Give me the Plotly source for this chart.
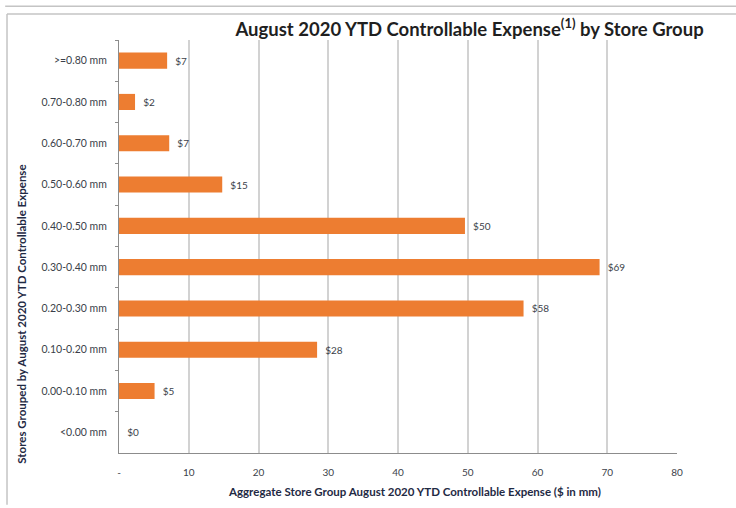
import plotly.graph_objects as go

# Store groups, listed top to bottom
groups = [">=0.80 mm", "0.70-0.80 mm", "0.60-0.70 mm", "0.50-0.60 mm", "0.40-0.50 mm",
          "0.30-0.40 mm", "0.20-0.30 mm", "0.10-0.20 mm", "0.00-0.10 mm", "<0.00 mm"]
# Aggregate YTD controllable expense ($ in mm)
expense = [6.9, 2.3, 7.2, 14.8, 49.6, 68.9, 58.0, 28.4, 5.1, 0.0]

x_tick_vals = [0, 10, 20, 30, 40, 50, 60, 70, 80]
x_tick_text = ["-", "10", "20", "30", "40", "50", "60", "70", "80"]

FONT = "Lato, 'Open Sans', sans-serif"
TEXT_COLOR = "#3b3f4a"
ORANGE = "#ED7D31"

fig = go.Figure(
    go.Bar(
        x=expense,
        y=groups,
        orientation="h",
        width=0.39,
        marker=dict(color=ORANGE, line=dict(width=0)),
        texttemplate="  $%{x:.0f}",
        textposition="outside",
        cliponaxis=False,
        textfont=dict(family=FONT, size=10, color=TEXT_COLOR),
    )
)

fig.update_layout(
    width=736,
    height=508,
    margin=dict(l=119, r=59, t=40, b=55),
    paper_bgcolor="white",
    plot_bgcolor="white",
    showlegend=False,
    font=dict(family=FONT, color=TEXT_COLOR),
    title=dict(
        text="<b>August 2020 YTD Controllable Expense<sup>(1)</sup> by Store Group</b>",
        font=dict(family=FONT, size=18.5, color="#1f1f1f"),
        x=0.638, xanchor="center",
        y=0.942, yanchor="middle",
    ),
    xaxis=dict(
        range=[0, 80],
        tickvals=x_tick_vals,
        ticktext=x_tick_text,
        tickfont=dict(family=FONT, size=10, color=TEXT_COLOR),
        showgrid=True,
        gridcolor="#d2d2d2",
        gridwidth=1.5,
        zeroline=False,
        showline=True,
        linecolor="#8c8c8c",
        linewidth=1.2,
        ticks="",
        ticklabelstandoff=10,
        fixedrange=True,
    ),
    yaxis=dict(
        autorange="reversed",
        tickfont=dict(family=FONT, size=10.5, color=TEXT_COLOR),
        showgrid=False,
        zeroline=False,
        showline=True,
        linecolor="#8c8c8c",
        linewidth=1.2,
        ticks="outside",
        tickson="boundaries",
        ticklen=3,
        tickcolor="#8c8c8c",
        ticklabelstandoff=9,
        fixedrange=True,
    ),
    annotations=[
        dict(
            text="<b>Aggregate Store Group August 2020 YTD Controllable Expense ($ in mm)</b>",
            xref="paper", yref="paper", x=0.53, y=-0.094,
            xanchor="center", yanchor="middle", showarrow=False,
            font=dict(family=FONT, size=11.5, color="#1f2a44"),
        ),
        dict(
            text="<b>Stores Grouped by August 2020 YTD Controllable Expense</b>",
            xref="paper", yref="paper", x=-0.174, y=0.337,
            xanchor="center", yanchor="middle", showarrow=False, textangle=-90,
            font=dict(family=FONT, size=11.5, color="#1f2a44"),
        ),
    ],
    shapes=[
        # outer frame around the chart
        dict(type="line", xref="paper", yref="paper",
             x0=-0.204, x1=1.2, y0=1.082, y1=1.082,
             line=dict(color="#c4c4c4", width=1.5)),
        dict(type="line", xref="paper", yref="paper",
             x0=-0.2007, x1=1.2, y0=1.063, y1=1.063,
             line=dict(color="#c4c4c4", width=1.5)),
        dict(type="line", xref="paper", yref="paper",
             x0=-0.2007, x1=-0.2007, y0=1.063, y1=-0.125,
             line=dict(color="#c4c4c4", width=1.5)),
    ],
)

fig.write_html("out.html")
